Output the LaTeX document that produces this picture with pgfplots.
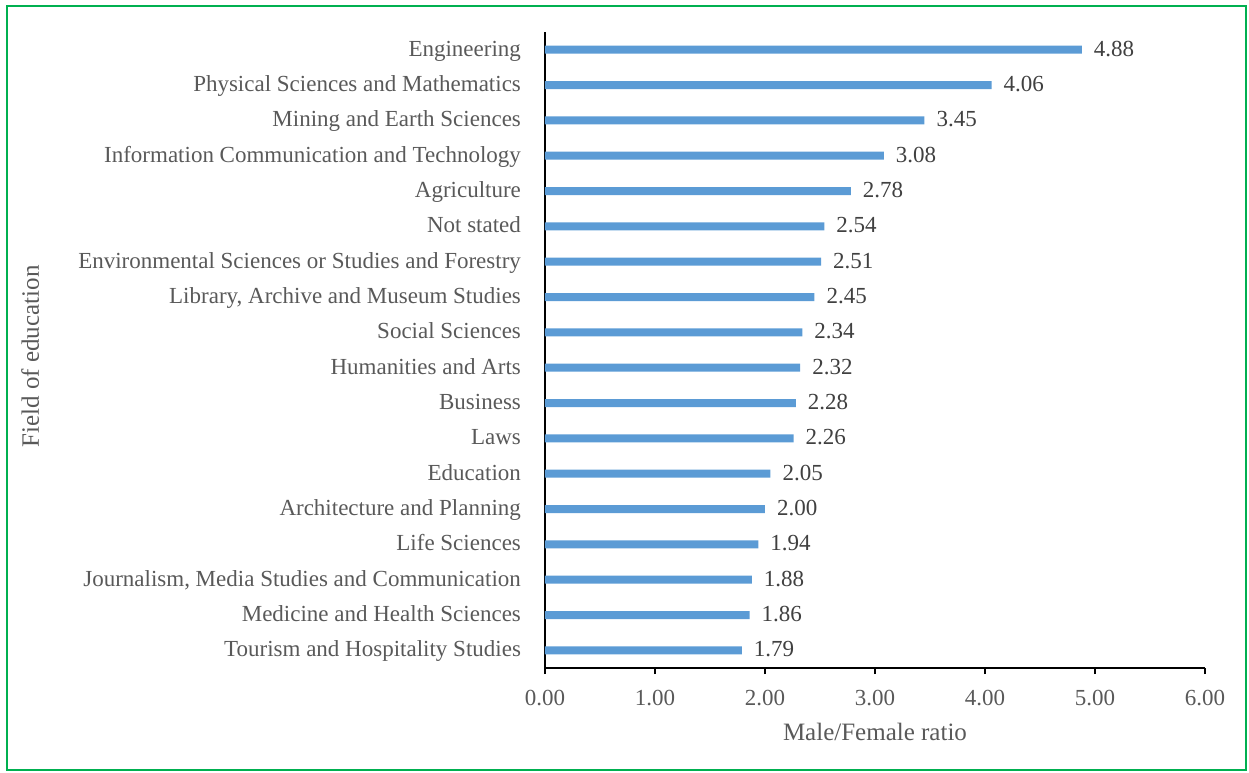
\documentclass[border=0pt]{standalone}
\usepackage{pgfplots}
\pgfplotsset{compat=1.18}
\usepackage{fontspec}
\setmainfont{Liberation Serif}
\definecolor{barblue}{HTML}{5B9BD5}
\definecolor{ticktext}{HTML}{595959}
\definecolor{valtext}{HTML}{404040}
\definecolor{frame}{HTML}{00B050}
\begin{document}
\fontsize{11.5pt}{13pt}\selectfont
\begin{tikzpicture}
\useasboundingbox (-272.5pt,-52pt) rectangle (352pt,334pt);
\draw[frame, line width=1pt] (-269pt,-51pt) rectangle (350.5pt,331pt);
\begin{axis}[
  at={(0,0)}, anchor=south west,
  scale only axis,
  width=330pt, height=318pt,
  xmin=0, xmax=6,
  ymin=-0.5, ymax=17.5,
  y dir=reverse,
  axis x line*=bottom,
  axis y line*=left,
  xtick={0,1,2,3,4,5,6},
  xticklabel style={text=ticktext, font=\fontsize{11.5pt}{13pt}\selectfont, yshift=-4pt, /pgf/number format/fixed, /pgf/number format/fixed zerofill, /pgf/number format/precision=2, /pgf/number format/assume math mode=true},
  ytick={0,...,17},
  yticklabels={Engineering,Physical Sciences and Mathematics,Mining and Earth Sciences,Information Communication and Technology,Agriculture,Not stated,Environmental Sciences or Studies and Forestry,{Library, Archive and Museum Studies},Social Sciences,Humanities and Arts,Business,Laws,Education,Architecture and Planning,Life Sciences,{Journalism, Media Studies and Communication},Medicine and Health Sciences,Tourism and Hospitality Studies},
  y tick label style={text=ticktext, font=\fontsize{11.5pt}{13pt}\selectfont, xshift=-5pt, text height=8pt, text depth=2.5pt, yshift=-0.5pt},
  ytick style={draw=none},
  xtick style={black, thick},
  tick align=outside,
  major tick length=3pt,
  axis line style={black, thick},
  xlabel={Male/Female ratio},
  ylabel={Field of education},
  label style={text=ticktext, font=\fontsize{12.5pt}{14pt}\selectfont},
  xlabel style={yshift=-1pt},
  ylabel style={at={(axis description cs:-0.780,0.49)}, anchor=center},
  clip=false,
]
\addplot[xbar, bar width=4pt, fill=barblue, draw=none,
  nodes near coords,
  nodes near coords style={text=valtext, font=\fontsize{11.5pt}{13pt}\selectfont, /pgf/number format/fixed, /pgf/number format/fixed zerofill, /pgf/number format/precision=2, /pgf/number format/assume math mode=true, anchor=west, xshift=2pt, text height=8pt, text depth=2.5pt, yshift=-0.5pt}
] coordinates {
(4.88,0) (4.06,1) (3.45,2) (3.08,3) (2.78,4) (2.54,5) (2.51,6) (2.45,7) (2.34,8) (2.32,9) (2.28,10) (2.26,11) (2.05,12) (2.00,13) (1.94,14) (1.88,15) (1.86,16) (1.79,17)
};
\end{axis}
\end{tikzpicture}
\end{document}
